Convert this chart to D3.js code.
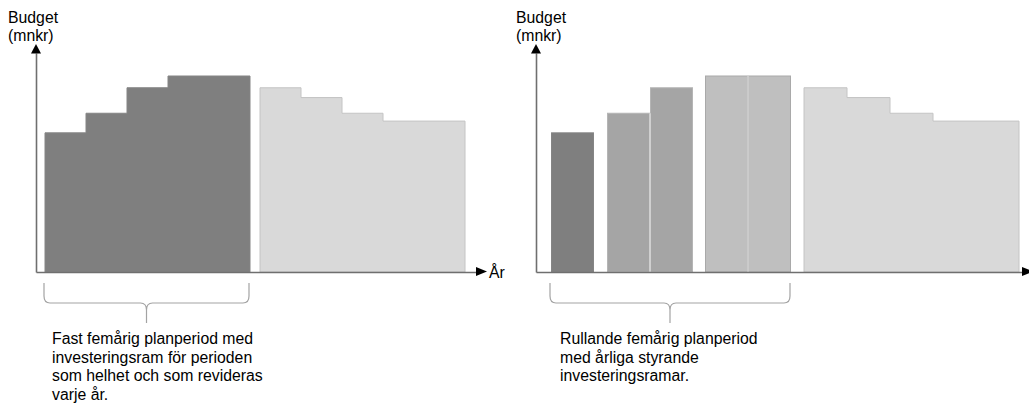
<!DOCTYPE html>
<html>
<head>
<meta charset="utf-8">
<script src="https://cdn.jsdelivr.net/npm/d3@7"></script>
<style>
  html, body { margin: 0; padding: 0; background: #ffffff; }
  svg { display: block; font-family: "Liberation Sans", Arial, sans-serif; }
</style>
</head>
<body>
<svg id="chart" width="1029" height="403"></svg>
<script>
// ---- data ----
const currentPeriod = [71, 81, 94, 100, 100];   // budget, current five-year plan (years 1-5)
const nextPeriod    = [94, 89, 81, 77, 77];      // budget, following years (years 6-10)
const yLabel = ["Budget", "(mnkr)"];
const xLabel = "År";
const leftNote  = ["Fast femårig planperiod med", "investeringsram för perioden", "som helhet och som revideras", "varje år."];
const rightNote = ["Rullande femårig planperiod", "med årliga styrande", "investeringsramar."];
// groups of years (indexes into the 10 years) for each panel
const leftGroups  = [[0,1,2,3,4], [5,6,7,8,9]];
const rightGroups = [[0], [1,2], [3,4], [5,6,7,8,9]];

const allValues = currentPeriod.concat(nextPeriod);

const svg = d3.select("#chart");
const baseY = 272;
const y = d3.scaleLinear().domain([0, 100]).range([baseY, 76]);
const FS = 15.8;

function drawPanel(opt) {
  const g = svg.append("g");
  const x = d3.scaleLinear().domain([0, 10]).range([opt.start, opt.start + 10 * opt.w]);
  const groupOf = i => opt.groups.findIndex(gr => gr.includes(i));
  const xpos = i => x(i) + opt.gaps[groupOf(i)];

  // marks
  opt.groups.forEach((gr, gi) => {
    const st = opt.styles[gi];
    if (st.separate) {
      g.selectAll(null).data(gr).enter().append("rect")
        .attr("x", i => xpos(i) + 0.5)
        .attr("y", i => y(allValues[i]))
        .attr("width", opt.w - 1)
        .attr("height", i => baseY - y(allValues[i]))
        .attr("fill", st.fill)
        .attr("stroke", st.stroke)
        .attr("stroke-width", 1);
      // light dividers between adjacent bars of a group
      g.selectAll(null).data(gr.slice(1)).enter().append("line")
        .attr("x1", i => xpos(i)).attr("x2", i => xpos(i))
        .attr("y1", i => Math.max(y(allValues[i]), y(allValues[i - 1])))
        .attr("y2", baseY)
        .attr("stroke", "#e2e2e2").attr("stroke-width", 1.2);
    } else {
      const pts = gr.map(i => ({ x: xpos(i), v: allValues[i] }));
      const last = gr[gr.length - 1];
      pts.push({ x: xpos(last) + opt.w, v: allValues[last] });
      const area = d3.area().curve(d3.curveStepAfter)
        .x(d => d.x).y0(baseY).y1(d => y(d.v));
      g.append("path").datum(pts)
        .attr("d", area)
        .attr("fill", st.fill)
        .attr("stroke", st.stroke)
        .attr("stroke-width", 1);
    }
  });

  // axes (no ticks) drawn with d3 axis generators
  const yAx = d3.scaleLinear().domain([0, 1]).range([baseY, 53]);
  g.append("g").attr("transform", `translate(${opt.axisX},0)`)
    .call(d3.axisLeft(yAx).tickValues([]).tickSizeOuter(0))
    .select(".domain").attr("stroke", "#6f6f6f").attr("stroke-width", 1.6);
  const xAx = d3.scaleLinear().domain([0, 1]).range([opt.axisX, opt.axisEnd]);
  g.append("g").attr("transform", `translate(0,${baseY})`)
    .call(d3.axisBottom(xAx).tickValues([]).tickSizeOuter(0))
    .select(".domain").attr("stroke", "#6f6f6f").attr("stroke-width", 1.6);

  // arrowheads
  g.append("path")
    .attr("d", `M${opt.axisX - 5},53.5 L${opt.axisX},44 L${opt.axisX + 5},53.5 Z`)
    .attr("fill", "#000");
  g.append("path")
    .attr("d", `M${opt.axisEnd},267 L${opt.axisEnd + 11},271.5 L${opt.axisEnd},276 Z`)
    .attr("fill", "#000");

  // y label
  const yl = g.append("text").attr("font-size", FS).attr("fill", "#000");
  yLabel.forEach((t, k) => yl.append("tspan").attr("x", opt.labelX).attr("y", 23 + k * 17.5).text(t));

  if (opt.showXLabel) {
    g.append("text").attr("x", opt.axisEnd + 13).attr("y", 278)
      .attr("font-size", FS).attr("fill", "#000").text(xLabel);
  }

  // brace under the five-year planning period
  const bx1 = xpos(0) - 1;
  const bx2 = xpos(4) + opt.w - 1;
  const mid = (bx1 + bx2) / 2;
  const top = 283, hy = 303, tip = 323;
  const bp = d3.path();
  bp.moveTo(bx1, top); bp.lineTo(bx1, hy - 7);
  bp.quadraticCurveTo(bx1, hy, bx1 + 6, hy);
  bp.lineTo(mid - 6, hy);
  bp.quadraticCurveTo(mid, hy, mid, hy + 7);
  bp.lineTo(mid, tip);
  bp.moveTo(mid, hy + 7);
  bp.quadraticCurveTo(mid, hy, mid + 6, hy);
  bp.lineTo(bx2 - 6, hy);
  bp.quadraticCurveTo(bx2, hy, bx2, hy - 7);
  bp.lineTo(bx2, top);
  g.append("path").attr("d", bp.toString())
    .attr("fill", "none").attr("stroke", "#a3a3a3").attr("stroke-width", 1.2);

  // note text
  const nt = g.append("text").attr("font-size", FS).attr("fill", "#000");
  opt.note.forEach((t, k) => nt.append("tspan").attr("x", opt.noteX).attr("y", 344 + k * 18.5).text(t));
}

drawPanel({
  start: 45, w: 41, gaps: [0, 10], groups: leftGroups,
  styles: [
    { fill: "#7f7f7f", stroke: "#858585" },
    { fill: "#d9d9d9", stroke: "#c4c4c4" }
  ],
  axisX: 36, axisEnd: 476, labelX: 8, showXLabel: true,
  note: leftNote, noteX: 52
});

drawPanel({
  start: 551, w: 43, gaps: [0, 13, 25, 38], groups: rightGroups,
  styles: [
    { fill: "#7f7f7f", stroke: "#858585", separate: true },
    { fill: "#a5a5a5", stroke: "#b5b5b5", separate: true },
    { fill: "#bfbfbf", stroke: "#a9a9a9", separate: true },
    { fill: "#d9d9d9", stroke: "#c4c4c4" }
  ],
  axisX: 536, axisEnd: 1022, labelX: 516, showXLabel: false,
  note: rightNote, noteX: 560
});
</script>
</body>
</html>
